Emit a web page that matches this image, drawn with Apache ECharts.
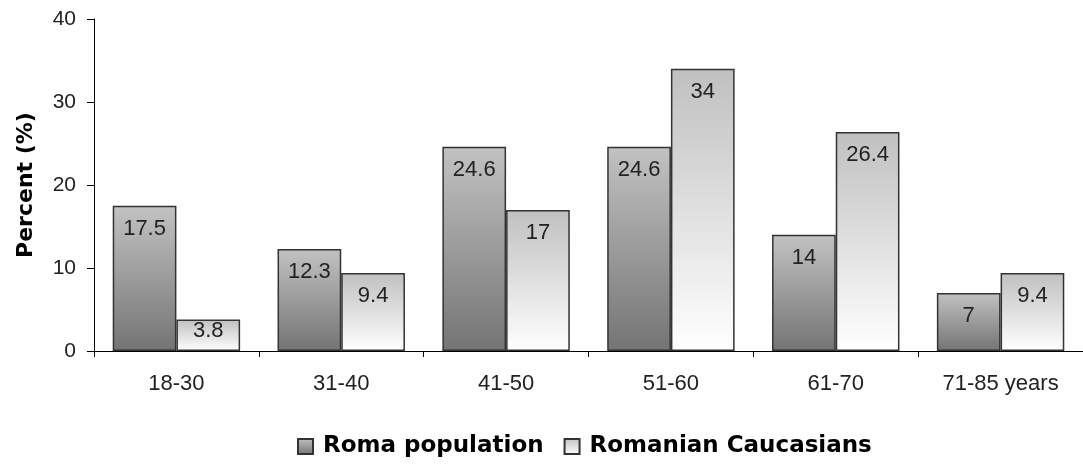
<!DOCTYPE html>
<html>
<head>
<meta charset="utf-8">
<script src="https://cdn.jsdelivr.net/npm/echarts@6/dist/echarts.min.js"></script>
<style>html,body{margin:0;padding:0;background:#fff}#c{width:1083px;height:464px}</style>
</head>
<body>
<div id="c"></div>
<script>
const categories = ['18-30', '31-40', '41-50', '51-60', '61-70', '71-85 years'];
const romaPopulation = [17.5, 12.3, 24.6, 24.6, 14, 7];
const romanianCaucasians = [3.8, 9.4, 17, 34, 26.4, 9.4];
const yTicks = [0, 10, 20, 30, 40];

const font = 'Arial, "Liberation Sans", sans-serif';
const boldFont = '"DejaVu Sans", Arial, sans-serif';
const romaGrad = new echarts.graphic.LinearGradient(0, 0, 0, 1, [
  {offset: 0, color: '#c2c2c2'}, {offset: 1, color: '#747474'}]);
const caucGrad = new echarts.graphic.LinearGradient(0, 0, 0, 1, [
  {offset: 0, color: '#c0c0c0'}, {offset: 1, color: '#ffffff'}]);

// short bars: label sits right at the bar top (as in the original)
const withLabelFit = arr => arr.map(v => v < 5 ? {value: v, label: {distance: 0}} : v);

const chart = echarts.init(document.getElementById('c'));
const labelCfg = {show: true, position: 'insideTop', distance: 12, color: '#222', fontFamily: font, fontSize: 22};
chart.setOption({
  animation: false,
  backgroundColor: '#fff',
  grid: {left: 94, right: -5, top: 19, bottom: 113},
  legend: {
    bottom: 1, left: 292,
    itemWidth: 15, itemHeight: 15, itemGap: 20,
    icon: 'rect',
    textStyle: {fontFamily: boldFont, fontSize: 23, fontWeight: 'bold', color: '#000', padding: [0, 0, 0, 5]},
    data: ['Roma population', 'Romanian Caucasians']
  },
  xAxis: {
    type: 'category', data: categories,
    axisLine: {lineStyle: {color: '#000', width: 1}},
    axisTick: {show: true, alignWithLabel: false, length: 6, lineStyle: {color: '#000'}},
    axisLabel: {color: '#222', fontFamily: font, fontSize: 22, margin: 22}
  },
  yAxis: {
    type: 'value', min: yTicks[0], max: yTicks[yTicks.length - 1], interval: 10,
    name: 'Percent (%)', nameLocation: 'middle', nameGap: 57,
    nameTextStyle: {fontFamily: boldFont, fontSize: 22, fontWeight: 'bold', color: '#000'},
    axisLine: {show: true, lineStyle: {color: '#000'}},
    axisTick: {show: true, length: 7, lineStyle: {color: '#000'}},
    axisLabel: {color: '#222', fontFamily: font, fontSize: 21, margin: 18},
    splitLine: {show: false}
  },
  series: [
    {name: 'Roma population', type: 'bar', data: withLabelFit(romaPopulation), barGap: '0%', barCategoryGap: '22.7%',
     itemStyle: {color: romaGrad, borderColor: '#333', borderWidth: 1.5}, label: labelCfg},
    {name: 'Romanian Caucasians', type: 'bar', data: withLabelFit(romanianCaucasians),
     itemStyle: {color: caucGrad, borderColor: '#333', borderWidth: 1.5}, label: labelCfg}
  ]
});
</script>
</body>
</html>
